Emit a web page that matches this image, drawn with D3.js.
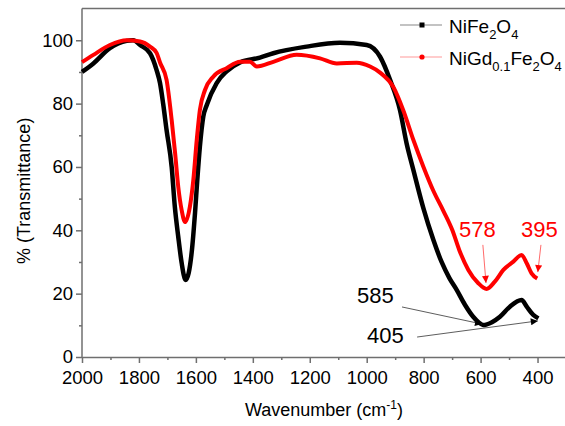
<!DOCTYPE html>
<html>
<head>
<meta charset="utf-8">
<script src="https://cdn.jsdelivr.net/npm/d3@7"></script>
<style>
  body { margin: 0; background: #fff; }
  svg { display: block; font-family: Arial, "Liberation Sans", sans-serif; }
</style>
</head>
<body>
<svg width="565" height="426"></svg>
<script>
// FTIR spectra (wavenumber cm-1, % transmittance)
const niFeWave = [2000, 1960, 1902, 1843, 1820, 1796, 1761, 1738, 1726, 1715, 1703, 1685, 1674, 1662, 1650, 1636,
  1615, 1603, 1595, 1586, 1574, 1562, 1527, 1492, 1445, 1375, 1328, 1211, 1094, 1000, 953, 918, 883, 860, 836,
  801, 766, 737, 710, 684, 655, 626, 605, 591, 560, 532, 497, 456, 438, 415, 397];
const niFeTrans = [90.0, 92.7, 97.5, 99.8, 100, 98.5, 95.9, 90.6, 86.5, 80, 71.7, 60, 47.5, 38, 29.7, 24.3,
  32.8, 45.5, 56, 66.4, 75.9, 79.5, 86.5, 90.2, 93, 94.5, 95.9, 98, 99.2, 98.5, 94.8, 87.5, 77.9, 67.5, 59,
  47, 37, 30, 25, 21.2, 16.5, 12.7, 10.8, 10.1, 11, 12.7, 15.9, 18, 15.9, 13.3, 12.2];

const niGdWave = [2000, 1960, 1902, 1843, 1796, 1761, 1738, 1726, 1703, 1685, 1673, 1662, 1650, 1638,
  1621, 1609, 1597, 1586, 1568, 1539, 1492, 1445, 1410, 1386, 1328, 1246, 1164, 1105, 1035, 988, 953, 907,
  872, 836, 801, 766, 730, 699, 675, 643, 608, 579, 550, 520, 485, 456, 438, 421, 401];
const niGdTrans = [93.1, 95.4, 98.5, 100, 99.6, 98, 96, 93, 87.5, 74.8, 64.4, 53.8, 46.4, 42.6,
  47.5, 55.9, 68.5, 78, 84.3, 88.5, 91.2, 93.2, 93.2, 91.7, 93.2, 95.4, 94.3, 92.7, 92.9, 91.7, 89.8, 85.3,
  78, 68.5, 60.1, 52.5, 46, 40, 33.8, 27.5, 23.3, 21.5, 23.8, 27.5, 30.1, 32.2, 29.6, 26.4, 24.8];

const xTicks = [2000, 1800, 1600, 1400, 1200, 1000, 800, 600, 400];
const yTicks = [0, 20, 40, 60, 80, 100];

// peak labels: text, label pos, arrow from, arrow to (data units)
const notes = [
  { text: '585', color: '#000', at: [1034, 17.0], from: [876, 15.8], to: [595, 10.4] },
  { text: '405', color: '#000', at: [999, 4.4], from: [823, 6.3], to: [399, 11.4] },
  { text: '578', color: '#f00', at: [676, 37.9], from: [592, 35.4], to: [581, 23.4] },
  { text: '395', color: '#f00', at: [458, 37.9], from: [388, 35.4], to: [399, 26.8] }
];

const svg = d3.select('svg');
const axisColor = '#6f6f6f';

const x = d3.scaleLinear().domain([2000, 300]).range([82, 566]);
const y = d3.scaleLinear().domain([0, 110]).range([357, 8.6]);

// frame (top + right)
svg.append('path')
  .attr('d', `M${x.range()[0]},${y(110)}H${x(300)}V${y(0)}`)
  .attr('fill', 'none').attr('stroke', axisColor).attr('stroke-width', 1.5);

// minor ticks
const xMinor = d3.range(2000, 299, -100).filter(v => !xTicks.includes(v));
const yMinor = d3.range(10, 110, 20);

svg.append('g').attr('transform', `translate(0,${y(0)})`)
  .call(d3.axisBottom(x).tickValues(xTicks).tickFormat(d3.format('d'))
    .tickSize(6).tickPadding(7.5).tickSizeOuter(0));
svg.append('g').attr('transform', `translate(0,${y(0)})`)
  .call(d3.axisBottom(x).tickValues(xMinor).tickSize(3).tickFormat('').tickSizeOuter(0))
  .select('.domain').remove();

const yAxis = svg.append('g').attr('transform', `translate(${x(2000)},0)`)
  .call(d3.axisLeft(y).tickValues(yTicks).tickSize(6).tickPadding(3).tickSizeOuter(0));
svg.append('g').attr('transform', `translate(${x(2000)},0)`)
  .call(d3.axisLeft(y).tickValues(yMinor).tickSize(3).tickFormat('').tickSizeOuter(0))
  .select('.domain').remove();

svg.selectAll('.domain, .tick line').attr('stroke', axisColor).attr('stroke-width', 1.5);
svg.selectAll('.tick text').attr('fill', '#000').style('font-size', '18.5px');
// the y axis line reaches the top frame
yAxis.select('.domain').attr('d', `M0,${y(0)}V${y(110)}`);

// axis titles
svg.append('text')
  .attr('x', (x(2000) + x(300)) / 2).attr('y', 416)
  .attr('text-anchor', 'middle').style('font-size', '18px')
  .call(t => {
    t.append('tspan').text('Wavenumber (cm');
    t.append('tspan').text('-1').attr('dy', -7).style('font-size', '12px');
    t.append('tspan').text(')').attr('dy', 7);
  });

svg.append('text')
  .attr('transform', `translate(30,${(y(0) + y(110)) / 2 + 8}) rotate(-90)`)
  .attr('text-anchor', 'middle').style('font-size', '18px')
  .text('% (Transmittance)');

// spectra
const line = d3.line().x(d => x(d[0])).y(d => y(d[1])).curve(d3.curveMonotoneX);
const niFe = niFeWave.map((w, i) => [w, niFeTrans[i]]);
const niGd = niGdWave.map((w, i) => [w, niGdTrans[i]]);

svg.append('path').datum(niFe)
  .attr('d', line).attr('fill', 'none').attr('stroke', '#000')
  .attr('stroke-width', 4.5).attr('stroke-linejoin', 'round');
svg.append('path').datum(niGd)
  .attr('d', line).attr('fill', 'none').attr('stroke', '#f00')
  .attr('stroke-width', 4).attr('stroke-linejoin', 'round');

// annotations
const defs = svg.append('defs');
['#000', '#f00'].forEach((c, i) => {
  defs.append('marker').attr('id', 'arr' + i)
    .attr('viewBox', '0 0 10 10').attr('refX', 10).attr('refY', 5)
    .attr('markerWidth', 9).attr('markerHeight', 7).attr('markerUnits', 'userSpaceOnUse')
    .attr('orient', 'auto')
    .append('path').attr('d', 'M0,0L10,5L0,10z').attr('fill', c);
});

notes.forEach(n => {
  const mk = n.color === '#000' ? 'arr0' : 'arr1';
  svg.append('line')
    .attr('x1', x(n.from[0])).attr('y1', y(n.from[1]))
    .attr('x2', x(n.to[0])).attr('y2', y(n.to[1]))
    .attr('stroke', n.color === '#000' ? '#333' : '#f44').attr('stroke-width', 0.8)
    .attr('marker-end', `url(#${mk})`);
  svg.append('text')
    .attr('x', x(n.at[0])).attr('y', y(n.at[1]))
    .attr('fill', n.color).style('font-size', '22px')
    .text(n.text);
});

// legend
const legend = [
  { name: ['NiFe', '2', 'O', '4'], color: '#000', lineColor: '#888', sym: 'square' },
  { name: ['NiGd', '0.1', 'Fe', '2', 'O', '4'], color: '#f00', lineColor: '#f99', sym: 'circle' }
];
legend.forEach((l, i) => {
  const g = svg.append('g').attr('transform', `translate(0,${25 + i * 32})`);
  g.append('line').attr('x1', 400).attr('x2', 442).attr('y1', 0).attr('y2', 0)
    .attr('stroke', l.lineColor).attr('stroke-width', 1.2);
  if (l.sym === 'square') {
    g.append('rect').attr('x', 419.5).attr('y', -2.5).attr('width', 5).attr('height', 5).attr('fill', l.color);
  } else {
    g.append('circle').attr('cx', 422).attr('cy', 0).attr('r', 2.6).attr('fill', l.color);
  }
  const t = g.append('text').attr('x', 449).attr('y', 8).style('font-size', '19px').attr('fill', '#000');
  l.name.forEach((part, k) => {
    const isSub = /^[0-9.]+$/.test(part);
    const prevSub = k > 0 && /^[0-9.]+$/.test(l.name[k - 1]);
    const ts = t.append('tspan').text(part);
    if (isSub) ts.attr('dy', 6).style('font-size', '13px');
    else if (prevSub) ts.attr('dy', -6);
  });
});
</script>
</body>
</html>
